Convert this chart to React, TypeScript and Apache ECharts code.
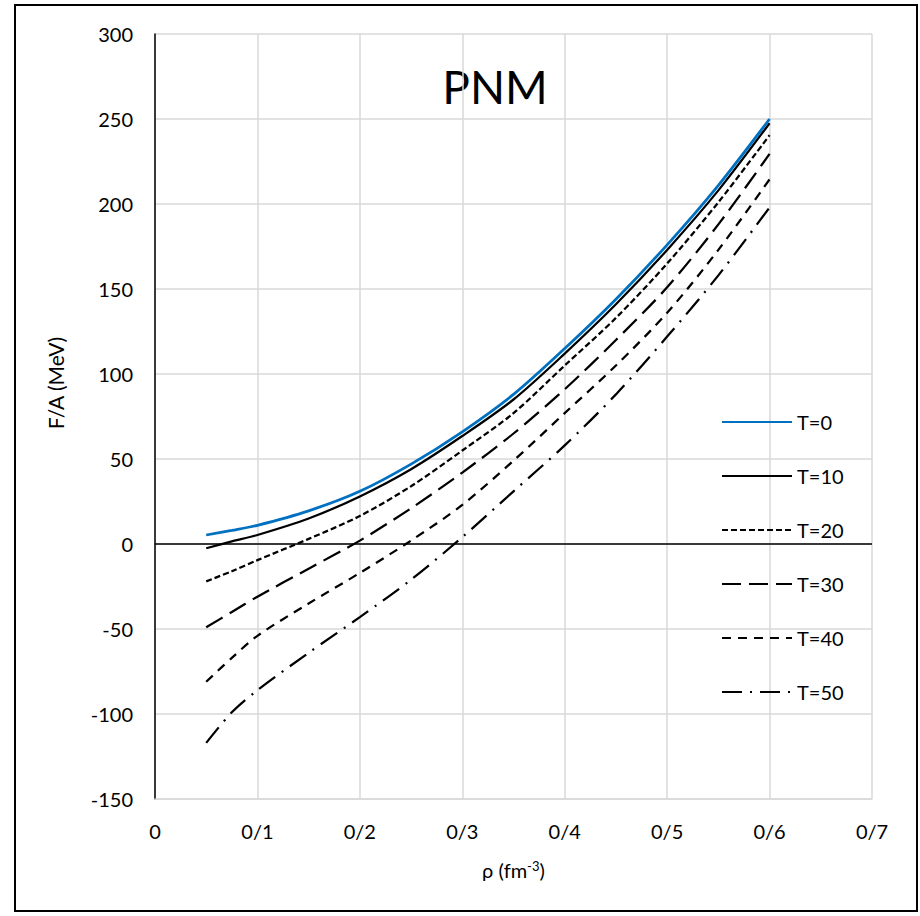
import React, { useEffect, useRef } from "react";
import * as echarts from "echarts";

const rho = [0.05, 0.075, 0.1, 0.15, 0.2, 0.25, 0.3, 0.35, 0.4, 0.45, 0.5, 0.55, 0.6];
const T0 = [5.3, 8, 11, 19.5, 31, 47, 66, 88, 115, 144, 176, 211, 250];
const T10 = [-2.5, 1.5, 5.3, 15, 28, 44, 63.5, 85, 112, 141, 173, 208, 247.5];
const T20 = [-22, -16, -9.5, 3, 16.5, 34, 55, 77, 105, 133, 165, 201, 240.5];
const T30 = [-49, -40, -31, -14.5, 2, 21, 42, 65, 91, 120, 151, 188, 229.5];
const T40 = [-81, -67, -54, -35, -17, 2, 23, 49, 77, 105, 136, 173, 214.5];
const T50 = [-117, -99, -86, -64, -43, -21, 4, 31, 58, 88, 122, 158, 198];

const seriesNames = ["T=0", "T=10", "T=20", "T=30", "T=40", "T=50"];
const xTickLabels = ["0", "0/1", "0/2", "0/3", "0/4", "0/5", "0/6", "0/7"];

const FONT = "Lato";

export default function App() {
  const ref = useRef<HTMLDivElement>(null);
  useEffect(() => {
    if (!ref.current) return;
    const chart = echarts.init(ref.current, null, { renderer: "svg" });
    const all = [T0, T10, T20, T30, T40, T50];
    const styles: any[] = [
      { color: "#0070C0", width: 2.75, type: "solid" },
      { color: "#000", width: 2.25, type: "solid" },
      { color: "#000", width: 2.25, type: [6, 3] },
      { color: "#000", width: 2.25, type: [19, 8] },
      { color: "#000", width: 2.25, type: [9, 7] },
      { color: "#000", width: 2.25, type: [20, 8, 2, 8] },
    ];
    const series: any[] = all.map((vals, i) => ({
      name: seriesNames[i],
      type: "line",
      data: rho.map((r, j) => [r, vals[j]]),
      symbol: "none",
      smooth: 0.3,
      lineStyle: styles[i],
      itemStyle: { color: styles[i].color },
      z: 10 - i,
    }));
    series[1].markLine = {
      silent: true,
      symbol: "none",
      label: { show: false },
      lineStyle: { color: "#000", type: "solid", width: 1.5 },
      data: [{ yAxis: 0 }],
      animation: false,
    };
    chart.setOption({
      animation: false,
      grid: { left: 155, top: 34, right: 48, bottom: 117, containLabel: false },
      xAxis: {
        type: "value",
        min: 0,
        max: 0.7,
        interval: 0.1,
        axisLine: { onZero: false, show: true, lineStyle: { color: "#d9d9d9", width: 1.5 } },
        axisTick: { show: false },
        splitLine: { show: true, lineStyle: { color: "#d9d9d9", width: 1.5 } },
        axisLabel: {
          margin: 22,
          fontSize: 20,
          fontFamily: FONT,
          color: "#000",
          formatter: (v: number) => xTickLabels[Math.round(v * 10)],
        },
        name: "ρ (fm{sup|-3})",
        nameLocation: "middle",
        nameGap: 60,
        nameTextStyle: {
          fontSize: 20,
          fontFamily: FONT,
          color: "#000",
          rich: {
            sup: { fontSize: 13, fontFamily: FONT, color: "#000", verticalAlign: "top", padding: [0, 0, 8, 0] },
          },
        },
      },
      yAxis: {
        type: "value",
        min: -150,
        max: 300,
        interval: 50,
        axisLine: { show: true, onZero: false, lineStyle: { color: "#000", width: 1.5 } },
        axisTick: { show: false },
        splitLine: { show: true, lineStyle: { color: "#d9d9d9", width: 1.5 } },
        axisLabel: { margin: 22, fontSize: 20, fontFamily: FONT, color: "#000" },
      },
      legend: {
        orient: "vertical",
        left: 716,
        top: 407,
        itemWidth: 70,
        itemHeight: 14,
        itemGap: 34,
        data: seriesNames,
        itemStyle: { opacity: 0, borderWidth: 0 },
        textStyle: { fontSize: 20, fontFamily: FONT, color: "#000" },
      },
      graphic: [
        {
          type: "rect",
          shape: { x: 15, y: 5, width: 902, height: 906 },
          style: { fill: "none", stroke: "#000", lineWidth: 2 },
          silent: true,
        },
        {
          type: "text",
          x: 55,
          y: 383,
          rotation: Math.PI / 2,
          style: {
            text: "F/A (MeV)",
            fontSize: 21,
            fontFamily: FONT,
            fill: "#000",
            align: "center",
            verticalAlign: "middle",
          },
        },
        {
          type: "text",
          x: 495,
          y: 86,
          style: {
            text: "PNM",
            fontSize: 46,
            fontFamily: FONT,
            fill: "#000",
            align: "center",
            verticalAlign: "middle",
          },
        },
      ],
      series,
    });
    return () => chart.dispose();
  }, []);
  return (
    <div
      ref={ref}
      style={{ position: "absolute", left: 0, top: 0, width: 920, height: 916, background: "#fff" }}
    />
  );
}
